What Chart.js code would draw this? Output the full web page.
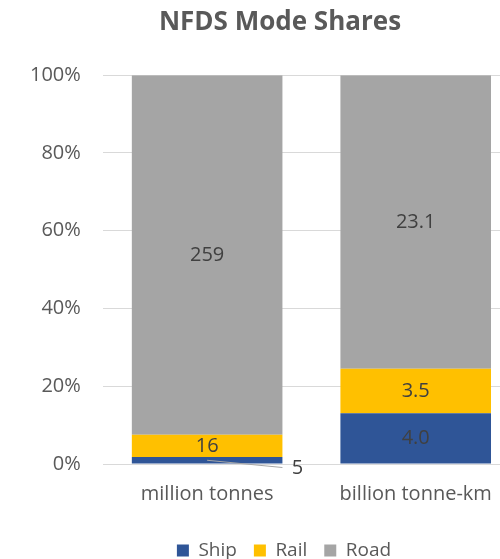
<!DOCTYPE html>
<html lang="en">
<head>
  <meta charset="UTF-8" />
  <title>NFDS Mode Shares</title>
  <script src="https://cdn.jsdelivr.net/npm/chart.js"></script>
  <style>
    html, body { margin: 0; padding: 0; background: #fff; overflow: hidden; }
    /* the original chart runs a little past the right edge of the picture */
    #wrap { width: 520px; height: 559px; }
  </style>
</head>
<body>
  <div id="wrap"><canvas id="chartModes"></canvas></div>

  <script>
    // data
    const categories = ["million tonnes", "billion tonne-km"];
    const shipValues = [5, 4.0];
    const railValues = [16, 3.5];
    const roadValues = [259, 23.1];
    const shipLabels = ["5", "4.0"];
    const railLabels = ["16", "3.5"];
    const roadLabels = ["259", "23.1"];
    const yTicks = [0, 20, 40, 60, 80, 100];

    const totals = categories.map((c, i) => shipValues[i] + railValues[i] + roadValues[i]);
    function pct(arr) {
      return arr.map((v, i) => v / totals[i] * 100);
    }

    const FONT = "'Open Sans', sans-serif";

    // value labels in the middle of each segment, small ones pulled out with a leader line
    const valueLabels = {
      id: "valueLabels",
      afterDatasetsDraw(chart) {
        const ctx = chart.ctx;
        ctx.save();
        ctx.font = "20px " + FONT;
        ctx.textAlign = "center";
        ctx.textBaseline = "middle";
        chart.data.datasets.forEach((ds, di) => {
          const meta = chart.getDatasetMeta(di);
          meta.data.forEach((bar, i) => {
            const top = bar.y, bottom = bar.base;
            const h = bottom - top;
            const txt = ds.valueLabels[i];
            if (h < 12) {
              const sx = bar.x, sy = (top + bottom) / 2;
              const ex = bar.x + bar.width / 2, ey = bottom + 4;
              ctx.strokeStyle = "#a6a6a6";
              ctx.lineWidth = 1;
              ctx.beginPath();
              ctx.moveTo(sx, sy);
              ctx.lineTo(ex, ey);
              ctx.stroke();
              ctx.fillStyle = "#404040";
              ctx.fillText(txt, ex + 15, ey + 1);
            } else {
              ctx.fillStyle = "#404040";
              ctx.fillText(txt, bar.x, (top + bottom) / 2);
            }
          });
        });
        ctx.restore();
      }
    };

    // nudge title and legend to where the original had them
    const blockShift = {
      id: "blockShift",
      afterLayout(chart) {
        const t = chart.titleBlock;
        if (t) {
          t.left += 16;
          t.right += 16;
        }
        const lg = chart.legend;
        if (lg) {
          lg.left += 20;
          lg.right += 20;
          lg.top += 11;
          lg.bottom += 11;
        }
      }
    };

    new Chart(document.getElementById("chartModes"), {
      type: "bar",
      data: {
        labels: categories,
        datasets: [
          { label: "Ship", data: pct(shipValues), valueLabels: shipLabels, backgroundColor: "#2f5597" },
          { label: "Rail", data: pct(railValues), valueLabels: railLabels, backgroundColor: "#ffc000" },
          { label: "Road", data: pct(roadValues), valueLabels: roadLabels, backgroundColor: "#a5a5a5" }
        ]
      },
      options: {
        responsive: true,
        maintainAspectRatio: false,
        animation: false,
        layout: { padding: { left: 8, right: 0, top: 0, bottom: 0 } },
        datasets: {
          bar: { categoryPercentage: 0.722, barPercentage: 1 }
        },
        scales: {
          x: {
            stacked: true,
            grid: { display: false, drawTicks: false },
            border: { display: false },
            ticks: { color: "#595959", font: { family: FONT, size: 20 }, padding: 18 },
            afterFit(axis) {
              axis.height -= 11;
            }
          },
          y: {
            stacked: true,
            min: 0,
            max: 100,
            afterBuildTicks(axis) {
              axis.ticks = yTicks.map(v => ({ value: v }));
            },
            grid: { color: "#d9d9d9", drawTicks: false },
            border: { display: false },
            ticks: {
              color: "#595959",
              font: { family: FONT, size: 20 },
              padding: 22,
              callback: v => v + "%"
            }
          }
        },
        plugins: {
          title: {
            display: true,
            text: "NFDS Mode Shares",
            color: "#595959",
            font: { family: FONT, size: 26, weight: "bold" },
            padding: { top: 7, bottom: 37 }
          },
          legend: {
            position: "bottom",
            labels: {
              color: "#595959",
              font: { family: FONT, size: 19 },
              boxWidth: 12,
              boxHeight: 12,
              padding: 17
            }
          },
          tooltip: { enabled: false }
        }
      },
      plugins: [valueLabels, blockShift]
    });
  </script>
</body>
</html>
